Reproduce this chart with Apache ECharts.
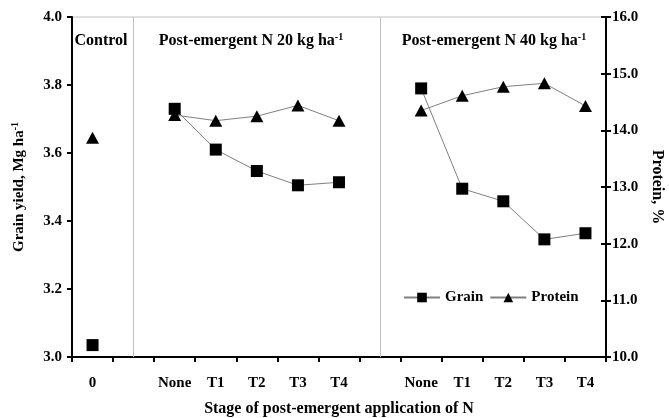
<!DOCTYPE html>
<html>
<head>
<meta charset="utf-8">
<script src="https://cdn.jsdelivr.net/npm/echarts@6/dist/echarts.min.js"></script>
<style>html,body{margin:0;padding:0;background:#fff}#c{width:669px;height:418px}</style>
</head>
<body>
<div id="c"></div>
<script>
const categories = ['0', '', 'None', 'T1', 'T2', 'T3', 'T4', '', 'None', 'T1', 'T2', 'T3', 'T4'];
const grainYield = [3.035, null, 3.73, 3.61, 3.547, 3.505, 3.514, null, 3.79, 3.495, 3.458, 3.346, 3.364];
const proteinPct = [13.87, null, 14.27, 14.17, 14.25, 14.44, 14.17, null, 14.35, 14.61, 14.77, 14.83, 14.43];
const panelDividers = [1, 7];
const panelLabels = ['Control', 'Post-emergent N 20 kg ha', 'Post-emergent N 40 kg ha'];

const FONT = 'Liberation Serif, Times New Roman, serif';
const chart = echarts.init(document.getElementById('c'), null, {renderer: 'canvas'});

const txt = {fontFamily: FONT, fontWeight: 'bold', fontSize: 15, color: '#000'};
const big = Object.assign({}, txt, {fontSize: 16});

chart.setOption({
  animation: false,
  backgroundColor: '#fff',
  grid: {left: 72, right: 63, top: 17, bottom: 61, show: true, borderColor: '#c0c0c0', borderWidth: 1, outerBoundsMode: 'none', containLabel: false},
  legend: {
    data: ['Grain', 'Protein'],
    left: 403, top: 290, padding: 0,
    itemWidth: 36, itemHeight: 12, itemGap: 6,
    textStyle: {fontFamily: FONT, fontWeight: 'bold', fontSize: 15, color: '#000'}
  },
  xAxis: {
    type: 'category',
    data: categories,
    boundaryGap: true,
    name: 'Stage of post-emergent application of N',
    nameLocation: 'middle',
    nameGap: 44,
    nameTextStyle: big,
    axisLine: {lineStyle: {color: '#000', width: 2}},
    axisTick: {show: true, interval: 0, length: 5, lineStyle: {color: '#000', width: 2}},
    axisLabel: Object.assign({interval: 0, margin: 19}, txt),
    splitLine: {show: false}
  },
  yAxis: [
    {
      type: 'value', min: 3, max: 4, interval: 0.2, position: 'left',
      name: '{m|Grain yield, Mg ha}{s|-1}',
      nameLocation: 'middle', nameGap: 44,
      nameTextStyle: Object.assign({}, txt, {rich: {m: Object.assign({}, txt, {lineHeight: 18}), s: Object.assign({}, txt, {fontSize: 10, lineHeight: 18, verticalAlign: 'top', padding: [0,0,6,0]})}}),
      axisLine: {show: true, lineStyle: {color: '#000', width: 2}},
      axisTick: {show: true, length: 5, lineStyle: {color: '#000', width: 2}},
      axisLabel: Object.assign({margin: 10, formatter: v => v.toFixed(1)}, txt),
      splitLine: {show: false}
    },
    {
      type: 'value', min: 10, max: 16, interval: 1, position: 'right',
      name: 'Protein, %',
      nameLocation: 'middle', nameGap: 37, nameRotate: -90,
      nameTextStyle: big,
      axisLine: {show: true, lineStyle: {color: '#000', width: 2}},
      axisTick: {show: true, length: 5, lineStyle: {color: '#000', width: 2}},
      axisLabel: Object.assign({margin: 6, formatter: v => v.toFixed(1)}, txt),
      splitLine: {show: false}
    },
    {
      type: 'value', min: 10, max: 16, interval: 1, position: 'right',
      axisLine: {show: false},
      axisTick: {show: true, inside: true, length: 5, lineStyle: {color: '#000', width: 2}},
      axisLabel: {show: false},
      splitLine: {show: false}
    }
  ],
  series: [
    {
      name: 'Grain', type: 'line', yAxisIndex: 0, z: 4,
      data: grainYield, connectNulls: false,
      symbol: 'rect', symbolSize: 12, showAllSymbol: true,
      itemStyle: {color: '#000'},
      lineStyle: {color: '#808080', width: 1},
      markLine: {
        silent: true, symbol: 'none', label: {show: false},
        lineStyle: {color: '#c0c0c0', width: 1, type: 'solid'},
        data: panelDividers.map(i => ({xAxis: i}))
      }
    },
    {
      name: 'Protein', type: 'line', yAxisIndex: 1, z: 3,
      data: proteinPct, connectNulls: false,
      symbol: 'triangle', symbolSize: [13, 12], showAllSymbol: true,
      itemStyle: {color: '#000'},
      lineStyle: {color: '#808080', width: 1}
    }
  ]
});

// panel labels
const labelX = [101, 251, 494];
const rich = {m: Object.assign({}, big, {lineHeight: 18}), s: Object.assign({}, big, {fontSize: 10, lineHeight: 18, verticalAlign: 'top'})};
chart.setOption({
  graphic: panelLabels.map((t, i) => ({
    type: 'text',
    x: labelX[i],
    y: 41,
    style: {
      text: i === 0 ? '{m|' + t + '}' : '{m|' + t + '}{s|-1}',
      rich: rich,
      align: 'center', verticalAlign: 'middle'
    }
  }))
});
</script>
</body>
</html>
